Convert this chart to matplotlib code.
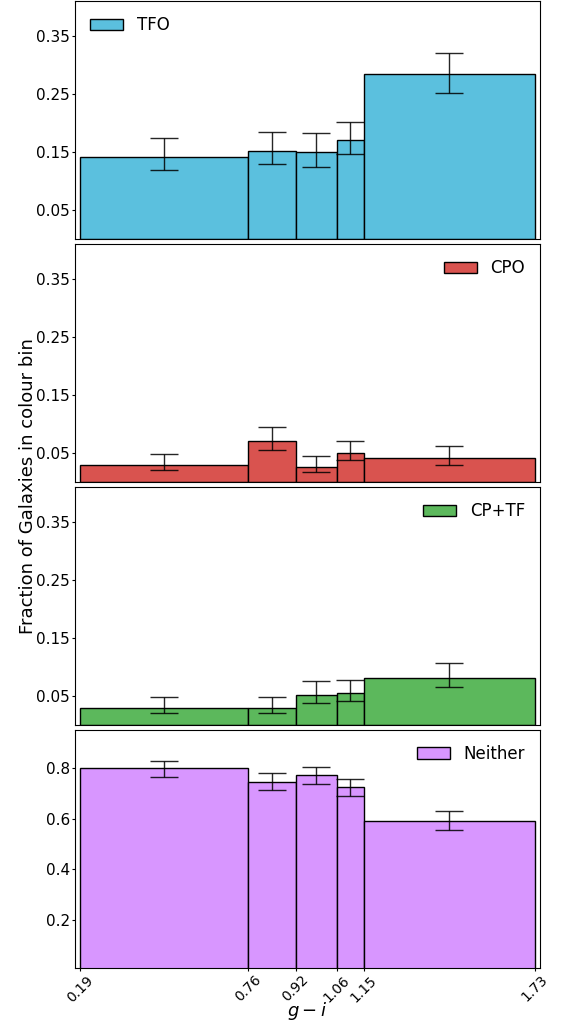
import matplotlib
matplotlib.use("Agg")
import matplotlib.pyplot as plt
import numpy as np

# Bin edges (g - i colour)
bin_edges = [0.19, 0.76, 0.92, 1.06, 1.15, 1.73]
tick_labels = ["0.19", "0.76", "0.92", "1.06", "1.15", "1.73"]

# Fractions per bin and error-bar bounds
tfo_vals = [0.142, 0.153, 0.150, 0.171, 0.285]
tfo_hi = [0.174, 0.185, 0.183, 0.203, 0.322]
tfo_lo = [0.120, 0.130, 0.125, 0.147, 0.253]

cpo_vals = [0.029, 0.071, 0.026, 0.050, 0.041]
cpo_hi = [0.049, 0.096, 0.045, 0.071, 0.062]
cpo_lo = [0.021, 0.056, 0.018, 0.038, 0.030]

cptf_vals = [0.029, 0.029, 0.052, 0.055, 0.081]
cptf_hi = [0.048, 0.048, 0.076, 0.077, 0.107]
cptf_lo = [0.021, 0.021, 0.039, 0.042, 0.065]

neither_vals = [0.800, 0.747, 0.774, 0.725, 0.592]
neither_hi = [0.828, 0.779, 0.804, 0.757, 0.629]
neither_lo = [0.766, 0.712, 0.737, 0.690, 0.555]

series = [
    ("TFO", tfo_vals, tfo_lo, tfo_hi, "#5bc0de", "upper left"),
    ("CPO", cpo_vals, cpo_lo, cpo_hi, "#d9534f", "upper right"),
    ("CP+TF", cptf_vals, cptf_lo, cptf_hi, "#5cb85c", "upper right"),
    ("Neither", neither_vals, neither_lo, neither_hi, "#d896ff", "upper right"),
]

edges = np.array(bin_edges)
lefts = edges[:-1]
widths = np.diff(edges)
centers = lefts + widths / 2

fig = plt.figure(figsize=(5.63, 10.27), dpi=100)
gs = fig.add_gridspec(4, 1, left=0.133, right=0.959, top=0.9986, bottom=0.0574, hspace=0.021)
axes = []
for i in range(4):
    ax = fig.add_subplot(gs[i], sharex=axes[0] if axes else None)
    axes.append(ax)

for i, (ax, (name, vals, lo, hi, color, loc)) in enumerate(zip(axes, series)):
    vals = np.array(vals)
    lo = np.array(lo)
    hi = np.array(hi)
    ax.bar(lefts, vals, width=widths, align="edge", color=color,
           edgecolor="black", linewidth=1.0, label=name)
    ax.errorbar(centers, vals, yerr=[vals - lo, hi - vals], fmt="none",
                ecolor="black", elinewidth=1.0, capsize=10, capthick=1.0, alpha=0.85)
    ax.legend(loc=loc, frameon=False, fontsize=12)
    ax.tick_params(axis="both", labelsize=11, length=2.5, pad=1)
    if i < 3:
        ax.set_ylim(0, 0.41)
        ax.set_yticks([0.05, 0.15, 0.25, 0.35])
        ax.set_yticklabels(["0.05", "0.15", "0.25", "0.35"])
        ax.tick_params(axis="x", labelbottom=False, bottom=False)
    else:
        ax.set_ylim(0.01, 0.95)
        ax.set_yticks([0.2, 0.4, 0.6, 0.8])
        ax.set_yticklabels(["0.2", "0.4", "0.6", "0.8"])

axes[-1].set_xlim(0.19 - 0.017, 1.73 + 0.017)
axes[-1].set_xticks(bin_edges)
axes[-1].set_xticklabels(tick_labels, rotation=45)
axes[-1].tick_params(axis="x", labelsize=10)
axes[-1].set_xlabel("$g-i$", fontsize=13, labelpad=-3)

fig.text(0.05, 0.527, "Fraction of Galaxies in colour bin", rotation=90,
         ha="center", va="center", fontsize=13)

fig.savefig("out.png", dpi=100)
